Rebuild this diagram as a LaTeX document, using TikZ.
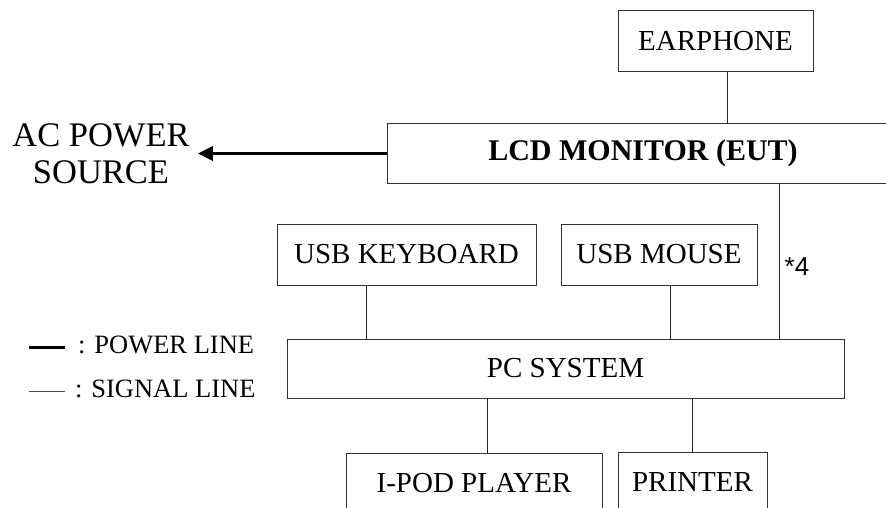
\documentclass[tikz,border=0pt]{standalone}
\usepackage{fontspec}
\setmainfont{Liberation Serif}
\newfontfamily\labelsans{Liberation Sans}
\usetikzlibrary{arrows.meta}

\tikzset{
  unit box/.style={draw=black!80, line width=1pt, rectangle, inner sep=0pt,
    font=\fontsize{29}{33}\selectfont},
  signal/.style={draw=black!85, line width=1pt},
  power/.style={draw=black, line width=3.5pt},
  legend text/.style={anchor=west, inner sep=0pt, font=\fontsize{26.5}{30}\selectfont},
}

\begin{document}
\begin{tikzpicture}[x=1pt, y=-1pt]
  \useasboundingbox (0,0) rectangle (886,508);
  \clip (0,0) rectangle (886,508);

  % equipment boxes
  \node[unit box, minimum width=195pt, minimum height=61pt] (earph) at (715.5,41.5) {EARPHONE};
  \node[unit box, minimum width=512pt, minimum height=59pt,
        font=\fontsize{30}{34}\selectfont\bfseries] (lcd) at (643,153.5) {LCD MONITOR (EUT)};
  \node[unit box, minimum width=259pt, minimum height=61pt] (kbd) at (406.5,254.5) {USB KEYBOARD};
  \node[unit box, minimum width=196pt, minimum height=61pt] (mouse) at (659,254.5) {USB MOUSE};
  \node[unit box, minimum width=557pt, minimum height=59pt] (pc) at (565.5,368.5) {PC SYSTEM};
  \node[unit box, minimum width=256pt, minimum height=61pt] (ipod) at (474,483.5) {I-POD PLAYER};
  \node[unit box, minimum width=149pt, minimum height=61pt] (prn) at (692.5,482.5) {PRINTER};

  % power source label
  \node[align=center, inner xsep=8pt, inner ysep=0pt,
        font=\fontsize{34.5}{37}\selectfont] (ac) at (101,154) {AC POWER\\SOURCE};

  % power line
  \draw[power, -{Triangle[length=15pt, width=14pt]}] (lcd.west) -- (ac.east |- lcd.west);

  % signal lines
  \draw[signal] ([xshift=11.5pt]earph.south) -- ([xshift=11.5pt]earph.south |- lcd.north);
  \draw[signal] ([xshift=-40.5pt]kbd.south) -- ([xshift=-40.5pt]kbd.south |- pc.north);
  \draw[signal] ([xshift=11pt]mouse.south) -- ([xshift=11pt]mouse.south |- pc.north);
  \draw[signal] ([xshift=213.5pt]pc.north) -- ([xshift=213.5pt]pc.north |- lcd.south);
  \draw[signal] ([xshift=13pt]ipod.north) -- ([xshift=13pt]ipod.north |- pc.south);
  \draw[signal] (prn.north) -- (prn.north |- pc.south);

  \node[inner sep=0pt, font=\labelsans\fontsize{26}{30}\selectfont] (cable) at (797,267) {*4};

  % legend
  \coordinate (pwA) at (29,347);
  \coordinate (pwB) at (65,347);
  \coordinate (sgA) at (29,391);
  \coordinate (sgB) at (65,391);
  \draw[power, line width=3pt] (pwA) -- (pwB);
  \draw[draw=black!70, line width=1pt] (sgA) -- (sgB);
  \node[legend text] (pwtxt) at (78,345) {: POWER LINE};
  \node[legend text] (sgtxt) at (75,389) {: SIGNAL LINE};
\end{tikzpicture}
\end{document}
